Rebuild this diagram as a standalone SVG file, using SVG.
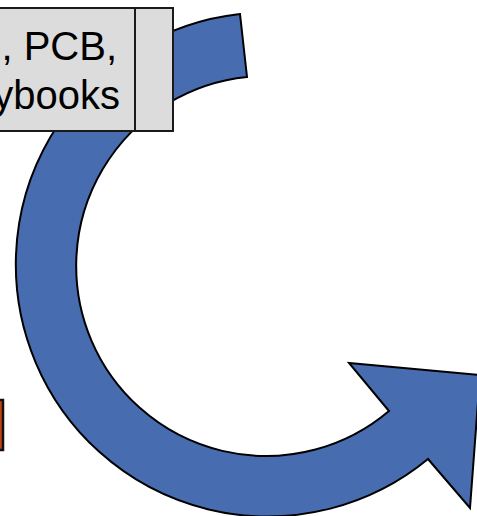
<svg xmlns="http://www.w3.org/2000/svg" width="477" height="516" viewBox="0 0 477 516">
  <style>
    .arrow { fill: #486cb0; stroke: #000; stroke-width: 2; stroke-linejoin: miter; }
    .box { fill: #dcdcdc; stroke: #1a1a1a; stroke-width: 2; }
    .accent { fill: #c4420e; stroke: #111; stroke-width: 2.5; }
    .label { font-family: "Liberation Sans", Arial, sans-serif; font-size: 40px; fill: #000; text-anchor: end; }
  </style>
  <rect width="477" height="516" fill="#fff"/>

  <!-- circular arrow: ring centred at (267,265), outer r 252, inner r 190 -->
  <g id="connectors">
    <path class="arrow" d="M240,14 A252,252 0 1 0 428,459 L470,508 L480,375 L349,363 L389,411 A190,190 0 1 1 247,77 Z"/>
  </g>

  <!-- label box with side compartment -->
  <g id="node-label">
    <rect class="box" x="-20" y="8" width="193" height="123"/>
    <line class="box" x1="135" y1="8" x2="135" y2="131"/>
    <text class="label" x="117" y="60">, PCB,</text>
    <text class="label" x="120" y="109">ybooks</text>
  </g>

  <!-- small accent box at left edge -->
  <g id="node-accent">
    <rect class="accent" x="-20" y="400" width="23" height="50"/>
  </g>
</svg>
